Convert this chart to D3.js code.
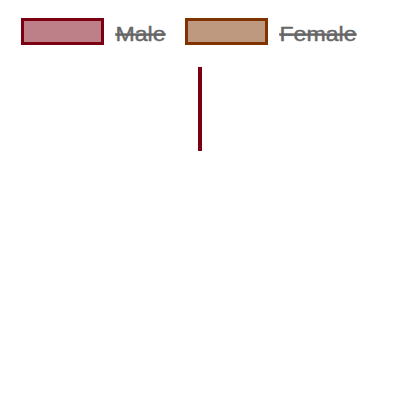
<!DOCTYPE html>
<html><head><meta charset="utf-8">
<script src="https://cdn.jsdelivr.net/npm/d3@7"></script>
<style>html,body{margin:0;padding:0;background:#fff}</style>
</head><body>
<svg id="c" width="400" height="400"></svg>
<script>
const seriesNames = ["Male", "Female"];
const seriesColors = ["#7b0012", "#7f3300"];
const seriesHidden = [true, true];
const labelWidths = [50, 77];
const lineCategory = ["center"];
const lineValues = [100, 0];

const svg = d3.select("#c");
const x = d3.scaleBand().domain(lineCategory).range([0, 400]);
const y = d3.scaleLinear().domain([0, 100]).range([151, 67]);

// legend
const lg = svg.append("g");
const lx = d3.scalePoint().domain(seriesNames).range([21, 185]);
seriesNames.forEach((n, i) => {
  const g = lg.append("g").attr("transform", `translate(${lx(n)},0)`);
  const c = d3.color(seriesColors[i]);
  const fill = d3.rgb(c.r, c.g, c.b, 0.5);
  g.append("rect").attr("x", 1.5).attr("y", 19.5).attr("width", 80).attr("height", 24)
    .attr("fill", fill).attr("stroke", seriesColors[i]).attr("stroke-width", 3);
  const t = g.append("text").attr("x", 94.5).attr("y", 41)
    .attr("font-family", "Liberation Sans, Arial, sans-serif").attr("font-size", 21)
    .attr("fill", "#666").attr("stroke", "#666").attr("stroke-width", 0.4)
    .attr("textLength", labelWidths[i]).attr("lengthAdjust", "spacingAndGlyphs")
    .text(n);
  if (seriesHidden[i]) t.attr("text-decoration", "line-through");
});

// line
const cx = x("center") + x.bandwidth() / 2;
svg.append("line")
  .attr("x1", cx).attr("x2", cx)
  .attr("y1", y(lineValues[0])).attr("y2", y(lineValues[1]))
  .attr("stroke", seriesColors[0]).attr("stroke-width", 4);
</script>
</body></html>
